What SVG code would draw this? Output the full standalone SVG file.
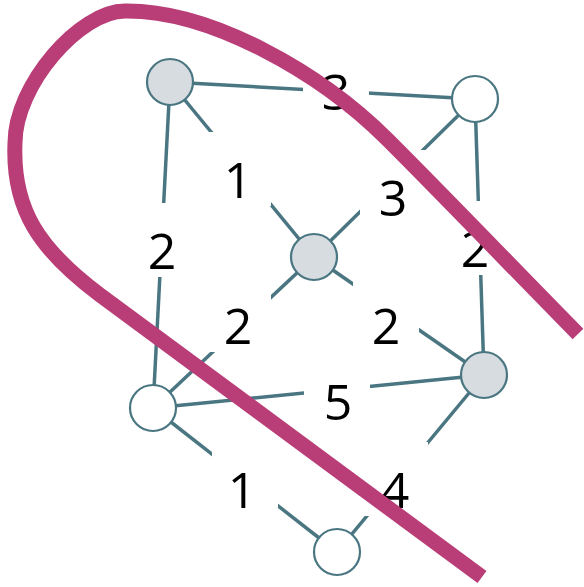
<svg xmlns="http://www.w3.org/2000/svg" width="584" height="587" viewBox="0 0 584 587">
<style>
.edge{stroke:#4a7682;stroke-width:3.5;fill:none}
.node circle{stroke:#4a7682;stroke-width:2.2}
.gray{fill:#d6dcdf}
.white{fill:#ffffff}
.lbl{font-family:"Open Sans","Noto Sans",sans-serif;font-size:50px;fill:#000;text-anchor:middle}
.hull{fill:none;stroke:#b93d77;stroke-width:15;stroke-linecap:butt;stroke-linejoin:round}
</style>
<defs>
<mask id="gaps" maskUnits="userSpaceOnUse" x="0" y="0" width="584" height="587">
<rect x="0" y="0" width="584" height="587" fill="#fff"/>
<rect x="303" y="44" width="66" height="74" fill="#000"/>
<rect x="205" y="132" width="66" height="74" fill="#000"/>
<rect x="360" y="150" width="66" height="74" fill="#000"/>
<rect x="129" y="203" width="66" height="74" fill="#000"/>
<rect x="442" y="201" width="66" height="74" fill="#000"/>
<rect x="205" y="278" width="66" height="74" fill="#000"/>
<rect x="353" y="278" width="66" height="74" fill="#000"/>
<rect x="304" y="354" width="66" height="74" fill="#000"/>
<rect x="212" y="442" width="66" height="74" fill="#000"/>
<rect x="362" y="442" width="66" height="74" fill="#000"/>
</mask>
</defs>
<rect width="584" height="587" fill="#fff"/>
<g id="connectors" mask="url(#gaps)">
<line class="edge" x1="170" y1="82" x2="475" y2="99"/>
<line class="edge" x1="170" y1="82" x2="314" y2="257"/>
<line class="edge" x1="475" y1="99" x2="314" y2="257"/>
<line class="edge" x1="170" y1="82" x2="153" y2="408"/>
<line class="edge" x1="475" y1="99" x2="484" y2="375"/>
<line class="edge" x1="314" y1="257" x2="153" y2="408"/>
<line class="edge" x1="314" y1="257" x2="484" y2="375"/>
<line class="edge" x1="153" y1="408" x2="484" y2="375"/>
<line class="edge" x1="153" y1="408" x2="337" y2="552"/>
<line class="edge" x1="484" y1="375" x2="337" y2="552"/>
</g>
<g id="nodeA" class="node"><circle class="gray" cx="170" cy="82" r="23"/></g>
<g id="nodeB" class="node"><circle class="white" cx="475" cy="99" r="23"/></g>
<g id="nodeC" class="node"><circle class="gray" cx="314" cy="257" r="23"/></g>
<g id="nodeD" class="node"><circle class="gray" cx="484" cy="375" r="23"/></g>
<g id="nodeE" class="node"><circle class="white" cx="153" cy="408" r="23"/></g>
<g id="nodeF" class="node"><circle class="white" cx="337" cy="552" r="23"/></g>
<g id="labels">
<text class="lbl" x="336" y="110">3</text>
<text class="lbl" x="238" y="198">1</text>
<text class="lbl" x="393" y="216">3</text>
<text class="lbl" x="162" y="269">2</text>
<text class="lbl" x="475" y="267">2</text>
<text class="lbl" x="238" y="344">2</text>
<text class="lbl" x="386" y="344">2</text>
<text class="lbl" x="338" y="420">5</text>
<text class="lbl" x="242" y="508">1</text>
<text class="lbl" x="395" y="508">4</text>
</g>
<path id="hull" class="hull" d="M578 334 C515 270 450 202 388 140 C320 72 210 10 125 11 C80 11 15 85 15 143 C12 210 40 250 100 295 L482 577"/>
</svg>
